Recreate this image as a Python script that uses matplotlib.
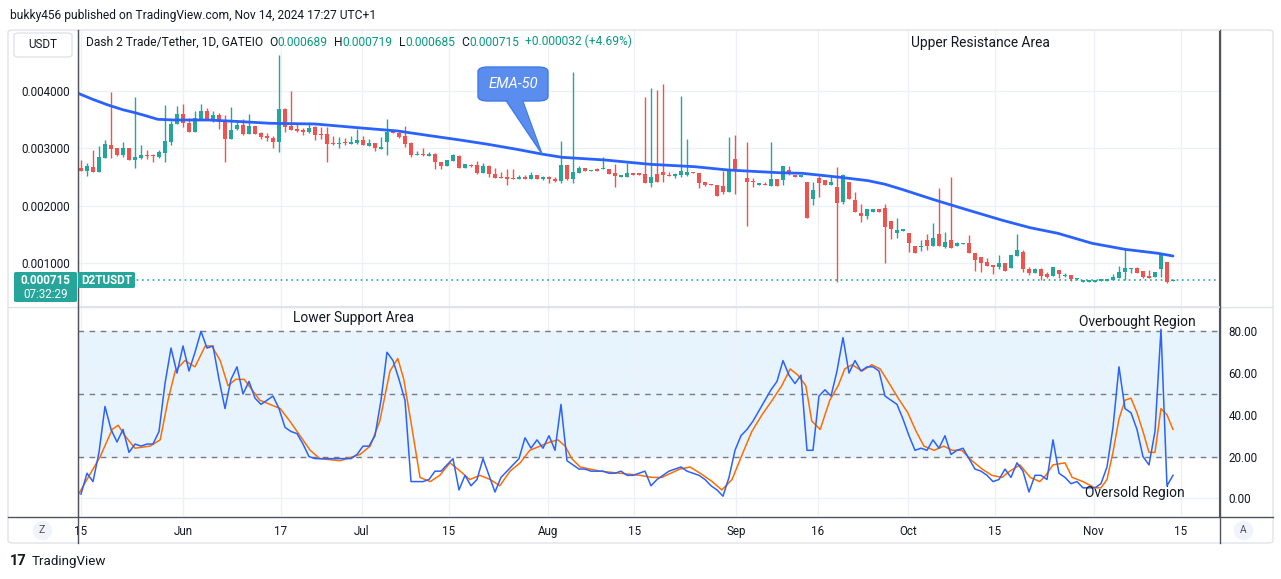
import matplotlib
matplotlib.use("Agg")
import matplotlib.pyplot as plt
from matplotlib.patches import FancyBboxPatch, Polygon
from matplotlib.lines import Line2D

# ---------------- data (prices in thousandths of USDT) ----------------
opens = [2.66, 2.61, 2.67, 2.59, 2.84, 3.05, 3.01, 2.89, 3.01, 2.80, 2.84, 2.885, 2.885, 2.855, 2.925, 3.116,
         3.423, 3.597, 3.435, 3.29, 3.51, 3.649, 3.493, 3.58, 3.493, 3.168, 3.33, 3.406, 3.249, 3.388, 3.272,
         3.214, 3.18, 3.116, 3.678, 3.388, 3.336, 3.319, 3.29, 3.365, 3.249, 3.249, 3.087, 3.075, 3.116, 3.081,
         3.098, 3.145, 3.04, 3.087, 2.994, 3.116, 3.301, 3.272, 3.214, 3.098, 2.884, 2.901, 2.872, 2.901, 2.768,
         2.698, 2.785, 2.867, 2.663, 2.715, 2.71, 2.576, 2.692, 2.553, 2.507, 2.507, 2.472, 2.472, 2.495, 2.46,
         2.536, 2.472, 2.495, 2.472, 2.437, 2.71, 2.466, 2.565, 2.663, 2.611, 2.634, 2.634, 2.64, 2.565, 2.507,
         2.507, 2.565, 2.553, 2.553, 2.391, 2.553, 2.588, 2.536, 2.524, 2.542, 2.542, 2.588, 2.565, 2.414, 2.379,
         2.362, 2.344, 2.246, 2.814, 2.623, 2.484, 2.426, 2.368, 2.379, 2.35, 2.466, 2.455, 2.623, 2.519, 2.507,
         2.414, 2.124, 2.484, 2.449, 2.368, 2.333, 2.072, 2.408, 2.101, 1.88, 1.823, 1.898, 1.939, 1.956, 1.736,
         1.533, 1.568, 1.521, 1.301, 1.289, 1.405, 1.307, 1.51, 1.289, 1.405, 1.307, 1.336, 1.347, 1.185, 1.104,
         1.022, 0.97, 0.941, 1.011, 0.924, 1.127, 1.196, 0.901, 0.837, 0.901, 0.814, 0.779, 0.884, 0.779, 0.797,
         0.727, 0.669, 0.669, 0.669, 0.700, 0.700, 0.704, 0.751, 0.855, 0.895, 0.918, 0.866, 0.779, 0.768, 0.895,
         1.023, 0.689]
highs = [2.80, 2.75, 2.97, 3.04, 3.14, 3.98, 3.01, 3.11, 3.01, 3.89, 3.05, 2.97, 2.895, 2.97, 3.753, 3.469,
         3.736, 3.771, 3.522, 3.655, 3.771, 3.695, 3.649, 3.62, 3.58, 3.713, 3.464, 3.504, 3.597, 3.388, 3.29,
         3.26, 3.214, 4.623, 3.695, 4.003, 3.435, 3.348, 3.464, 3.388, 3.377, 3.377, 3.214, 3.191, 3.174, 3.214,
         3.33, 3.214, 3.156, 3.098, 3.191, 3.504, 3.319, 3.29, 3.388, 3.116, 2.959, 3.0, 2.942, 2.925, 2.768,
         2.797, 2.901, 2.884, 2.727, 2.727, 2.785, 2.75, 2.71, 2.658, 2.588, 2.646, 2.646, 2.536, 2.536, 2.594,
         2.536, 2.519, 2.519, 2.507, 3.133, 2.71, 4.327, 2.692, 2.663, 2.623, 2.652, 2.855, 2.64, 2.727, 2.536,
         2.75, 2.565, 2.553, 3.886, 4.043, 4.014, 4.118, 2.588, 2.576, 3.91, 3.162, 2.588, 2.565, 2.414, 2.379,
         2.362, 2.611, 3.197, 3.232, 2.623, 3.116, 2.484, 2.379, 2.414, 3.116, 2.466, 2.692, 2.692, 2.519, 2.519,
         2.414, 2.414, 2.519, 2.449, 2.519, 2.68, 2.553, 2.408, 2.246, 2.031, 1.939, 1.939, 1.939, 2.031, 1.736,
         1.782, 1.579, 1.521, 1.301, 1.405, 1.51, 1.707, 2.315, 1.544, 2.507, 1.37, 1.347, 1.492, 1.185, 1.104,
         1.092, 0.97, 1.144, 1.011, 1.144, 1.51, 1.231, 0.941, 0.913, 0.913, 0.855, 0.93, 0.884, 0.826, 0.797,
         0.739, 0.704, 0.704, 0.704, 0.704, 0.704, 0.814, 0.953, 1.243, 0.924, 0.941, 0.866, 0.884, 0.849, 1.185,
         1.023, 0.719]
lows = [2.61, 2.51, 2.59, 2.59, 2.84, 2.84, 2.87, 2.855, 2.80, 2.66, 2.82, 2.82, 2.77, 2.84, 2.768, 3.064,
        3.423, 3.377, 3.29, 3.29, 3.51, 3.51, 3.464, 3.342, 2.768, 3.156, 3.319, 3.226, 3.249, 3.249, 3.168,
        3.133, 3.011, 2.942, 3.29, 3.319, 3.29, 3.232, 3.272, 3.145, 3.156, 2.768, 3.058, 3.011, 3.058, 3.075,
        3.075, 3.064, 3.04, 2.959, 2.994, 2.884, 3.26, 3.174, 3.029, 2.855, 2.884, 2.867, 2.872, 2.64, 2.64,
        2.698, 2.785, 2.652, 2.663, 2.681, 2.553, 2.565, 2.507, 2.478, 2.478, 2.362, 2.46, 2.46, 2.46, 2.46,
        2.472, 2.449, 2.391, 2.42, 2.402, 2.449, 2.391, 2.565, 2.611, 2.611, 2.611, 2.634, 2.553, 2.321, 2.507,
        2.507, 2.542, 2.542, 2.402, 2.321, 2.42, 2.42, 2.524, 2.489, 2.507, 2.524, 2.565, 2.315, 2.35, 2.356,
        2.176, 2.205, 2.246, 2.2, 2.6, 1.655, 2.333, 2.368, 2.362, 2.35, 2.35, 2.368, 2.542, 2.507, 2.507,
        1.794, 2.02, 2.159, 2.368, 2.368, 0.68, 2.031, 2.118, 1.898, 1.724, 1.77, 1.898, 1.898, 1.011, 1.417,
        1.446, 1.568, 1.202, 1.173, 1.22, 1.231, 1.307, 1.307, 1.272, 1.272, 1.307, 1.336, 1.185, 0.872, 0.854,
        0.953, 0.814, 0.895, 0.872, 0.912, 1.127, 0.854, 0.797, 0.837, 0.71, 0.739, 0.779, 0.739, 0.756, 0.692,
        0.71, 0.669, 0.669, 0.669, 0.700, 0.700, 0.704, 0.751, 0.704, 0.826, 0.837, 0.745, 0.75, 0.768, 0.768,
        0.652, 0.685]
closes = [2.61, 2.69, 2.59, 2.85, 3.07, 2.99, 2.89, 3.01, 2.80, 2.85, 2.88, 2.87, 2.872, 2.936, 3.127, 3.423,
          3.597, 3.435, 3.29, 3.522, 3.649, 3.51, 3.58, 3.464, 3.168, 3.319, 3.406, 3.249, 3.388, 3.249, 3.203,
          3.185, 3.116, 3.678, 3.377, 3.319, 3.301, 3.29, 3.348, 3.232, 3.232, 3.075, 3.069, 3.087, 3.098, 3.11,
          3.145, 3.064, 3.087, 3.011, 3.023, 3.29, 3.272, 3.203, 3.075, 2.884, 2.901, 2.884, 2.901, 2.768, 2.698,
          2.797, 2.884, 2.663, 2.727, 2.698, 2.576, 2.692, 2.553, 2.489, 2.489, 2.46, 2.46, 2.495, 2.472, 2.536,
          2.472, 2.495, 2.472, 2.437, 2.71, 2.466, 2.582, 2.663, 2.611, 2.623, 2.611, 2.652, 2.553, 2.524, 2.524,
          2.565, 2.542, 2.542, 2.402, 2.501, 2.42, 2.542, 2.524, 2.553, 2.605, 2.588, 2.565, 2.402, 2.368, 2.356,
          2.176, 2.24, 2.623, 2.605, 2.6, 2.42, 2.408, 2.379, 2.362, 2.466, 2.35, 2.692, 2.565, 2.507, 2.519,
          1.794, 2.275, 2.391, 2.368, 2.414, 2.054, 2.536, 2.118, 1.898, 1.823, 1.939, 1.939, 1.898, 1.637, 1.597,
          1.579, 1.579, 1.347, 1.173, 1.301, 1.301, 1.434, 1.307, 1.37, 1.272, 1.347, 1.347, 1.185, 1.057, 0.999,
          0.953, 0.941, 1.011, 0.872, 1.144, 1.231, 0.895, 0.826, 0.901, 0.779, 0.768, 0.93, 0.814, 0.797, 0.721,
          0.739, 0.704, 0.704, 0.704, 0.704, 0.704, 0.756, 0.849, 0.913, 0.901, 0.837, 0.768, 0.75, 0.849, 1.162,
          0.681, 0.715]

# EMA-50 values (candle index, price in thousandths)
ema_idx = [-0.5, 2, 4.5, 7, 9, 11, 12.8, 15.7, 21.2, 26.8, 31.5, 39, 47.3, 52.8, 58.5, 63.2, 67.8, 72.5,
           76.8, 80.2, 87.3, 94.8, 102.3, 107.8, 116.2, 120.2, 126.5, 131.2, 134, 136.8, 142.3, 147.8, 153.5,
           158.2, 162.8, 168.5, 174, 179.5, 182]
ema_val = [3.957, 3.85, 3.753, 3.67, 3.619, 3.56, 3.504, 3.492, 3.492, 3.463, 3.435, 3.423, 3.348, 3.301,
           3.214, 3.144, 3.07, 2.985, 2.9, 2.843, 2.797, 2.722, 2.68, 2.623, 2.576, 2.565, 2.496, 2.437, 2.375,
           2.287, 2.101, 1.927, 1.75, 1.619, 1.522, 1.348, 1.243, 1.174, 1.127]

# oscillator %K (blue), one value per candle
osc_k = [2, 12, 8, 22, 44, 33, 27, 33, 22, 26, 25, 26, 26, 32, 55, 72, 60, 73, 61, 70, 80, 72, 73, 57, 43, 57,
         63, 50, 56, 48, 45, 47, 49, 43, 34, 32, 31, 26, 20, 19, 19, 19, 19, 19, 19, 19, 21, 25, 25, 30, 47, 70,
         66, 57, 47, 8, 8, 8, 9, 13, 13, 16, 19, 4, 11, 6, 9, 19, 11, 3, 10, 13, 16, 19, 29, 24, 28, 24, 30, 23,
         45, 18, 16, 14, 14, 13, 13, 13, 12, 12, 13, 11, 11, 12, 13, 6, 9, 11, 13, 14, 15, 13, 12, 11, 9, 6, 4,
         1, 10, 23, 30, 33, 37, 42, 47, 52, 56, 66, 59, 55, 59, 23, 23, 49, 52, 49, 61, 77, 60, 66, 61, 63, 63,
         61, 49, 47, 45, 38, 30, 23, 24, 23, 28, 24, 30, 21, 23, 24, 19, 14, 13, 11, 8, 9, 14, 10, 17, 13, 3, 11,
         11, 9, 28, 12, 10, 7, 8, 5, 5, 5, 7, 15, 34, 63, 43, 41, 33, 20, 16, 32, 81, 6, 11]
# oscillator %D (orange), read at these candle positions
osc_d_idx = [-0.5, 3.2, 5.2, 6.2, 7.3, 9, 11.5, 13.2, 14.5, 15.7, 17.3, 19, 20.7, 21.8, 23.2, 24.5, 25.8, 27.2,
             28.5, 29.8, 31.5, 33.2, 34.8, 36.5, 38.2, 39.8, 43.2, 46.5, 48.2, 49.8, 51.5, 52.8, 53.8, 55.2,
             56.5, 58.2, 59.8, 61.5, 63.2, 64.8, 66.5, 68.2, 69.8, 71.5, 73.2, 74.8, 76.5, 78.2, 79.5, 80.7,
             81.8, 83.2, 86.5, 89.8, 93.2, 95.2, 96.8, 99.8, 101.5, 103.2, 105.2, 106.8, 108.5, 110.2, 111.8,
             113.5, 115.2, 116.8, 118.2, 119.5, 120.8, 121.8, 123.2, 124.8, 126.2, 127.3, 128.5, 130.2, 131.8,
             133.2, 134.5, 136.2, 137.8, 139.2, 140.5, 142.2, 143.8, 145.2, 146.8, 148.5, 150.2, 151.8, 153.5,
             154.8, 156.5, 158.2, 159.8, 160.8, 162, 164, 165.2, 167, 169, 170, 171, 172, 173, 174, 175, 176,
             177, 178, 179, 180, 181, 182]
osc_d = [1.5, 20, 33, 35, 30, 24, 25, 28, 47, 61, 66, 63, 73, 73, 66, 54, 57, 57, 52, 47, 45, 43, 37, 30, 23,
         19, 18, 21, 25, 37, 61, 67, 57, 33, 10, 8, 11, 17, 13, 9, 11, 9, 6, 13, 17, 23, 25, 27, 28, 25, 19, 15,
         13, 12, 11, 10, 10, 14, 15, 12, 8, 4, 9, 21, 32, 40, 47, 54, 62, 59, 54, 37, 33, 47, 54, 62, 64, 61, 64,
         62, 56, 48, 41, 32, 25, 23, 25, 23, 23, 18, 14, 11, 10, 13, 16, 10, 8, 11, 16, 17, 10, 8, 5, 5, 9, 22,
         38, 47, 48, 41, 32, 22, 22, 43, 40, 33]

price_ticks = [1, 2, 3, 4]
osc_ticks = [0, 20, 40, 60, 80]
time_labels = ["15", "Jun", "17", "Jul", "15", "Aug", "15", "Sep", "16", "Oct", "15", "Nov", "15"]
time_pos = [0, 17, 33.3, 46.8, 61.3, 77.8, 92.2, 109.2, 122.8, 137.8, 152.3, 168.8, 183.3]
last_price = 0.715

# ---------------- figure ----------------
W, H = 1281, 579
fig = plt.figure(figsize=(W / 100, H / 100), dpi=100)
fig.patch.set_facecolor("white")
plt.rcParams["font.family"] = ["Roboto", "DejaVu Sans"]
TXT = "#131722"
GRID = "#edf0f6"
UP, DN = "#26a69a", "#ef5350"
AXL = "#50535e"
FS = 8.4
HFS = 8.65


def P(x, y):
    return (x / W, 1 - y / H)


L, R = 78, 1219
T1, B1 = 31, 306
T2, B2 = 308, 516
ax = fig.add_axes([L / W, 1 - B1 / H, (R - L) / W, (B1 - T1) / H])
ax2 = fig.add_axes([L / W, 1 - B2 / H, (R - L) / W, (B2 - T2) / H])
for a in (ax, ax2):
    a.set_xlim(-0.5, 189.67)
    a.set_facecolor("white")
ax.set_ylim(0.2574, 5.04)
ax2.set_ylim(-8.49, 91.2)

for a in (ax, ax2):
    a.set_xticks(time_pos)
    a.grid(True, color=GRID, lw=1, zorder=0)
    a.set_axisbelow(True)
ax.tick_params(axis="x", length=0, labelbottom=False)
ax.set_yticks(price_ticks)
ax.set_yticklabels([f"{v / 1000:.6f}" for v in price_ticks])
ax.tick_params(axis="y", length=0, pad=6, labelsize=FS, labelcolor=TXT)

ax2.set_xticklabels(time_labels)
ax2.tick_params(axis="x", length=0, pad=6.5, labelsize=FS, labelcolor=TXT)
ax2.yaxis.tick_right()
ax2.set_yticks(osc_ticks)
ax2.set_yticklabels([f"{v:.2f}" for v in osc_ticks])
ax2.tick_params(axis="y", length=0, pad=7, labelsize=FS, labelcolor=TXT)

for a in (ax, ax2):
    a.spines["left"].set_color(AXL)
    a.spines["right"].set_color(AXL)
    a.spines["top"].set_visible(False)
ax.spines["bottom"].set_color("#e0e3eb")
ax2.spines["bottom"].set_visible(False)

# candles
n = len(closes)
xs = list(range(n))
cols = [UP if closes[i] >= opens[i] else DN for i in xs]
ax.vlines(xs, lows, highs, colors=cols, lw=1, zorder=2)
bottoms = [min(opens[i], closes[i]) for i in xs]
heights = [max(abs(closes[i] - opens[i]), 0.02) for i in xs]
ax.bar(xs, heights, bottom=bottoms, width=0.68, color=cols, linewidth=0, zorder=3)

# EMA
ax.plot(ema_idx, ema_val, color="#2962ff", lw=2, zorder=4, solid_capstyle="round", solid_joinstyle="round")

# last price line
ax.axhline(last_price, color=UP, lw=1.2, ls=(0, (1, 2.2)), zorder=1)

# oscillator
ax2.axhspan(20, 80, color="#2196f3", alpha=0.1, lw=0, zorder=0.5)
for lvl in (80, 50, 20):
    ax2.axhline(lvl, color="#787b86", lw=1, ls=(0, (4, 4)), zorder=1)
ax2.plot(osc_d_idx, osc_d, color="#ff6d00", lw=1.1, zorder=3)
ax2.plot(xs, osc_k, color="#2962ff", lw=1.1, zorder=4)


# ---------------- decorations ----------------
def line(x0, y0, x1, y1, color, lw=1):
    fig.add_artist(Line2D([x0 / W, x1 / W], [1 - y0 / H, 1 - y1 / H], color=color, lw=lw,
                          transform=fig.transFigure))


fig.add_artist(FancyBboxPatch(P(8, 543), (1273 - 8) / W, (543 - 30) / H,
                              boxstyle="round,pad=0,rounding_size=0.004", transform=fig.transFigure,
                              fc="none", ec="#e0e3eb", lw=1))
line(8, 307, 1273, 307, "#e0e3eb")
line(8, 517, 1273, 517, AXL)
line(77.5, 30, 77.5, 543, AXL)
line(1219.5, 30, 1219.5, 543, AXL)

fig.text(*P(10, 15), "bukky456 published on TradingView.com, Nov 14, 2024 17:27 UTC+1",
         fontsize=HFS, color=TXT, va="center", ha="left")

fig.add_artist(FancyBboxPatch(P(14, 57), 58 / W, 24 / H, boxstyle="round,pad=0,rounding_size=0.004",
                              transform=fig.transFigure, fc="white", ec="#e0e3eb", lw=1))
fig.text(*P(43, 45), "USDT", fontsize=FS, color=TXT, va="center", ha="center")

GREEN = "#089981"
parts = [("Dash 2 Trade/Tether, 1D, GATEIO", TXT, 0), ("O", TXT, 4.5), ("0.000689", GREEN, 0),
         ("H", TXT, 4.5), ("0.000719", GREEN, 0), ("L", TXT, 4.5), ("0.000685", GREEN, 0),
         ("C", TXT, 4.5), ("0.000715", GREEN, 0), ("+0.000032 (+4.69%)", GREEN, 4.5)]
prev = fig.text(*P(86, 42), parts[0][0], fontsize=HFS, color=parts[0][1], va="center", ha="left")
for s, c, gap in parts[1:]:
    prev = ax.annotate(s, xy=(1, 0), xycoords=prev, xytext=(gap, 0), textcoords="offset points",
                       fontsize=HFS, color=c, va="bottom", ha="left", annotation_clip=False)

AFS = 9.9
fig.text(*P(911, 43), "Upper Resistance Area", fontsize=AFS, color=TXT, va="center", ha="left")
fig.text(*P(293, 318), "Lower Support Area", fontsize=AFS, color=TXT, va="center", ha="left")
fig.text(*P(1079, 322), "Overbought Region", fontsize=AFS, color=TXT, va="center", ha="left")
fig.text(*P(1085, 493), "Oversold Region", fontsize=AFS, color=TXT, va="center", ha="left")

# EMA-50 callout
CB, CE = "#5b8def", "#3f7be6"
fig.add_artist(Polygon([P(505, 99), P(522, 99), P(542, 154)], closed=True, transform=fig.transFigure,
                       fc=CB, ec=CE, lw=1, zorder=5))
fig.add_artist(FancyBboxPatch(P(478, 101), 70 / W, 34 / H, boxstyle="round,pad=0,rounding_size=0.008",
                              transform=fig.transFigure, fc=CB, ec=CE, lw=1, zorder=6))
fig.add_artist(Polygon([P(506, 98), P(521, 98), P(539, 147)], closed=True, transform=fig.transFigure,
                       fc=CB, ec="none", zorder=7))
fig.text(*P(513, 84), "EMA-50", fontsize=10.5, color="white", style="italic", va="center", ha="center",
         zorder=8)

# price label boxes
fig.add_artist(FancyBboxPatch(P(14, 302), 63 / W, 30 / H, boxstyle="round,pad=0,rounding_size=0.002",
                              transform=fig.transFigure, fc=UP, ec="none", zorder=5))
fig.text(*P(45.5, 280.5), "0.000715", fontsize=8.4, color="white", fontweight="bold", va="center",
         ha="center", zorder=6)
fig.text(*P(45.5, 294), "07:32:29", fontsize=8.4, color="white", va="center", ha="center", zorder=6)
fig.add_artist(FancyBboxPatch(P(78, 288), 57 / W, 16 / H, boxstyle="round,pad=0,rounding_size=0.002",
                              transform=fig.transFigure, fc=UP, ec="none", zorder=5))
fig.text(*P(106.5, 280.5), "D2TUSDT", fontsize=8.4, color="white", fontweight="bold", va="center",
         ha="center", zorder=6)

# Z / A buttons
for cx, letter in ((42, "Z"), (1243, "A")):
    fig.add_artist(Line2D([cx / W], [1 - 530 / H], marker="o", ms=14, mfc="#f0f3fa", mec="none",
                          transform=fig.transFigure))
    fig.text(*P(cx, 530), letter, fontsize=7.5, color=AXL, va="center", ha="center")

# TradingView logo
fig.text(*P(10, 561), "17", fontsize=10.5, color=TXT, fontweight="bold", va="center", ha="left")
fig.text(*P(32, 561), "TradingView", fontsize=9.6, color=TXT, va="center", ha="left")

fig.savefig("out.png", dpi=100)
